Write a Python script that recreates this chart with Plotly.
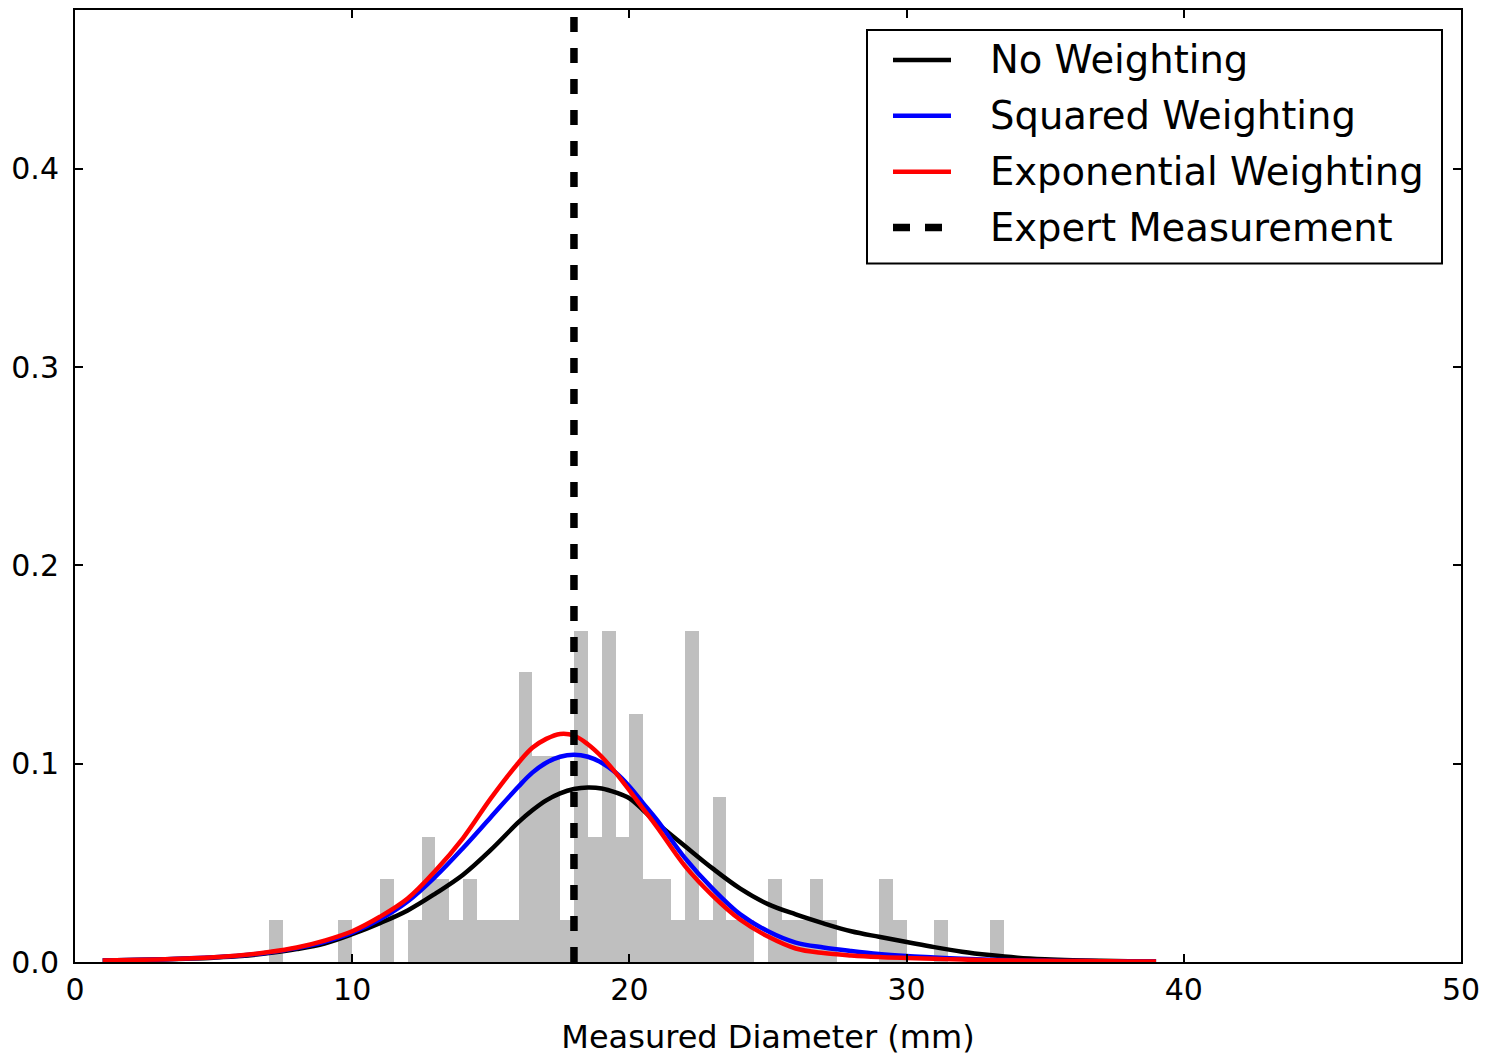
import plotly.graph_objects as go

# Histogram (density): bin centers (width 0.5) and heights
bin_centers = [7.25, 9.75, 11.25, 12.25, 12.75, 13.25, 13.75, 14.25, 14.75, 15.25, 15.75,
               16.25, 16.75, 17.25, 17.75, 18.25, 18.75, 19.25, 19.75, 20.25, 20.75, 21.25,
               21.75, 22.25, 22.75, 23.25, 23.75, 24.25, 25.25, 25.75, 26.25, 26.75, 27.25,
               29.25, 29.75, 31.25, 33.25]
bin_heights = [0.021, 0.021, 0.042, 0.021, 0.063, 0.042, 0.021, 0.042, 0.021, 0.021, 0.021,
               0.146, 0.104, 0.104, 0.021, 0.167, 0.063, 0.167, 0.063, 0.125, 0.042, 0.042,
               0.021, 0.167, 0.021, 0.083, 0.021, 0.021, 0.042, 0.021, 0.021, 0.042, 0.021,
               0.042, 0.021, 0.021, 0.021]
bin_width = 0.5

# Density curves
curve_x = [1, 2, 3, 4, 5, 6, 7, 8, 9, 10, 11, 12, 13, 14, 15, 16, 16.5, 17, 17.5, 18, 18.5,
           19, 19.5, 20, 20.5, 21, 22, 23, 24, 25, 26, 27, 28, 29, 30, 31, 32, 33, 34, 35,
           36, 37, 38, 39]
no_weighting = [0.0008, 0.001, 0.0013, 0.0017, 0.0022, 0.003, 0.0045, 0.0065, 0.0093, 0.014,
                0.0196, 0.026, 0.0345, 0.044, 0.0565, 0.0705, 0.0765, 0.0815, 0.085, 0.0872,
                0.088, 0.0875, 0.0855, 0.0825, 0.0765, 0.07, 0.0585, 0.0472, 0.037, 0.0292,
                0.024, 0.0195, 0.0155, 0.0127, 0.0101, 0.0075, 0.0052, 0.0035, 0.0022, 0.0014,
                0.0009, 0.0006, 0.0004, 0.0003]
squared_weighting = [0.0008, 0.001, 0.0013, 0.0018, 0.0024, 0.0033, 0.0048, 0.007, 0.0102,
                     0.0148, 0.0215, 0.0305, 0.043, 0.0575, 0.073, 0.0885, 0.0955, 0.1005,
                     0.1035, 0.1045, 0.1035, 0.1005, 0.0955, 0.0885, 0.08, 0.0715, 0.0525,
                     0.037, 0.024, 0.0155, 0.0098, 0.0073, 0.0055, 0.004, 0.003, 0.0023,
                     0.0016, 0.0011, 0.0008, 0.0006, 0.0005, 0.0004, 0.0003, 0.0003]
exponential_weighting = [0.0008, 0.001, 0.0013, 0.0018, 0.0024, 0.0034, 0.005, 0.0073, 0.0108,
                         0.0155, 0.0228, 0.032, 0.046, 0.0625, 0.0825, 0.1005, 0.108, 0.1125,
                         0.115, 0.1142, 0.1098, 0.1035, 0.0955, 0.0865, 0.0772, 0.068, 0.0485,
                         0.0335, 0.0213, 0.0128, 0.0068, 0.0045, 0.0033, 0.0025, 0.002, 0.0016,
                         0.0012, 0.0009, 0.0007, 0.0006, 0.0005, 0.0004, 0.0003, 0.0003]

expert_x = 18
y_max = 0.48

x_ticks = [0, 10, 20, 30, 40, 50]
y_ticks = [0.0, 0.1, 0.2, 0.3, 0.4]
y_tick_labels = ["0.0", "0.1", "0.2", "0.3", "0.4"]

legend_names = ["No Weighting", "Squared Weighting", "Exponential Weighting", "Expert Measurement"]
legend_colors = ["black", "#0000ff", "#ff0000", "black"]

font_family = "DejaVu Sans"
curve_width = 4.5

fig = go.Figure()
fig.add_trace(go.Bar(x=bin_centers, y=bin_heights, width=bin_width,
                     marker=dict(color="#bfbfbf", line=dict(width=0)),
                     showlegend=False, hoverinfo="skip"))
for name, ys, col in zip(legend_names[:3],
                         [no_weighting, squared_weighting, exponential_weighting],
                         legend_colors[:3]):
    fig.add_trace(go.Scatter(x=curve_x, y=ys, mode="lines", name=name, showlegend=False,
                             line=dict(color=col, width=curve_width, shape="spline")))
fig.add_trace(go.Scatter(x=[expert_x, expert_x], y=[0, y_max], mode="lines",
                         name=legend_names[3], showlegend=False,
                         line=dict(color="black", width=7.5, dash="15px,16px")))

axis_common = dict(showline=True, linecolor="black", linewidth=2, mirror="ticks",
                   ticks="inside", ticklen=8, tickwidth=1.5, tickcolor="black",
                   showgrid=False, zeroline=False,
                   tickfont=dict(family=font_family, size=30, color="black"))

# ---- hand-built legend box (paper coordinates of the 75..1461 x 8..962 plot area) ----
W, H, L, T = 1386.0, 954.0, 75.0, 8.0


def px_x(p):
    return (p - L) / W


def px_y(p):
    return (T + H - p) / H


shapes = [dict(type="rect", xref="paper", yref="paper",
               x0=px_x(867), x1=px_x(1442), y0=px_y(262), y1=px_y(28),
               line=dict(color="black", width=2), fillcolor="white", layer="above")]
annotations = []
row_y = [58, 114, 170, 226]
for i, (name, col) in enumerate(zip(legend_names, legend_colors)):
    yy = px_y(row_y[i])
    if i < 3:
        shapes.append(dict(type="line", xref="paper", yref="paper",
                           x0=px_x(893), x1=px_x(951), y0=yy, y1=yy,
                           line=dict(color=col, width=curve_width), layer="above"))
    else:
        shapes.append(dict(type="line", xref="paper", yref="paper",
                           x0=px_x(893), x1=px_x(943), y0=yy, y1=yy,
                           line=dict(color=col, width=7.5, dash="17px,15px"), layer="above"))
    annotations.append(dict(xref="paper", yref="paper", x=px_x(988), y=yy,
                            xanchor="left", yanchor="middle", showarrow=False, text=name,
                            font=dict(family=font_family, size=38.5, color="black")))

fig.update_layout(
    width=1491, height=1057,
    paper_bgcolor="white", plot_bgcolor="white",
    margin=dict(l=75, r=30, t=8, b=95),
    font=dict(family=font_family, color="black"),
    bargap=0,
    showlegend=False,
    xaxis=dict(range=[0, 50], tickvals=x_ticks,
               title=dict(text="Measured Diameter (mm)",
                          font=dict(family=font_family, size=32, color="black"),
                          standoff=20),
               **axis_common),
    yaxis=dict(range=[0, y_max], tickvals=y_ticks, ticktext=y_tick_labels,
               ticklabelstandoff=8, **axis_common),
    shapes=shapes,
    annotations=annotations,
)

fig.write_html("out.html", config={"displayModeBar": False},
               post_script="document.body.style.margin='0';")
